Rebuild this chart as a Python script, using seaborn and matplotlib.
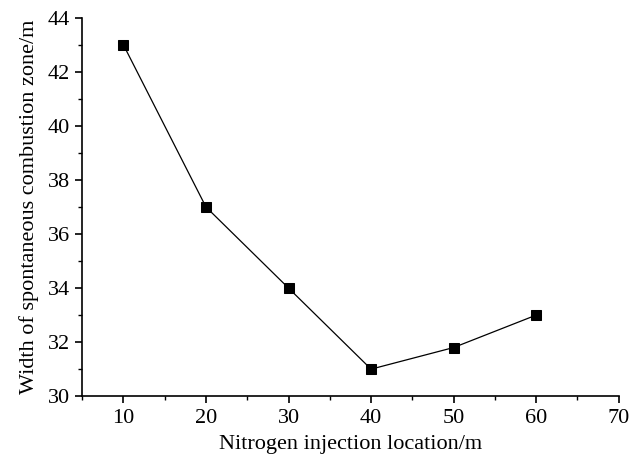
import matplotlib
matplotlib.use("Agg")
import matplotlib.pyplot as plt
import seaborn as sns
import pandas as pd
from matplotlib.ticker import MultipleLocator

location = [10, 20, 30, 40, 50, 60]
width = [43, 37, 34, 31, 31.8, 33]

sns.set_theme(style="ticks")
plt.rcParams['font.family'] = ['Liberation Serif', 'DejaVu Serif']

df = pd.DataFrame({"loc": location, "w": width})
fig = plt.figure(figsize=(6.32, 4.58), dpi=100)
ax = fig.add_axes([0.130, 0.135, 0.849, 0.826])
sns.lineplot(data=df, x="loc", y="w", ax=ax, color="black", linewidth=0.9,
             marker="s", markersize=7, markeredgecolor="black", markerfacecolor="black")
ax.set_xlim(5, 70)
ax.set_ylim(30, 44)
ax.xaxis.set_major_locator(MultipleLocator(10))
ax.xaxis.set_minor_locator(MultipleLocator(5))
ax.yaxis.set_major_locator(MultipleLocator(2))
ax.yaxis.set_minor_locator(MultipleLocator(1))
for s in ["top", "right"]:
    ax.spines[s].set_visible(False)
for s in ["left", "bottom"]:
    ax.spines[s].set_color("black")
    ax.spines[s].set_linewidth(1.2)
ax.tick_params(which="major", direction="out", length=5, width=1.2, colors="black", labelsize=16, pad=4)
ax.tick_params(which="minor", direction="out", length=3, width=1.0, colors="black")
ax.set_xlabel("Nitrogen injection location/m", fontsize=16, color="black", labelpad=5)
ax.set_ylabel("Width of spontaneous combustion zone/m", fontsize=16, color="black", labelpad=6)
fig.savefig("out.png", dpi=100)
